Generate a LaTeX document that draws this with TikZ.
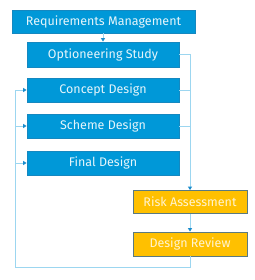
\documentclass[tikz,border=0pt]{standalone}
\usepackage{fontspec}
\setmainfont{Fira Sans}
\usetikzlibrary{arrows.meta}
\definecolor{boxblue}{HTML}{0098D8}
\definecolor{boxblueb}{HTML}{1588C0}
\definecolor{boxorange}{HTML}{FFC000}
\definecolor{orangeb}{HTML}{5A7A80}
\definecolor{linecol}{HTML}{9CD6F0}
\definecolor{tipcol}{HTML}{1A8CCC}
\begin{document}
\begin{tikzpicture}[x=1pt,y=-1pt,
  bluebox/.style={draw=boxblueb,line width=0.8pt,fill=boxblue,text=white!90!boxblue,font=\fontsize{12.5}{13}\selectfont,inner sep=0pt},
  orangebox/.style={draw=orangeb,line width=0.8pt,fill=boxorange,text=white!82!boxorange,font=\fontsize{12.5}{13}\selectfont,inner sep=0pt},
  conn/.style={draw=linecol,line width=0.9pt,-{Triangle[length=3.5pt,width=4pt,fill=tipcol,color=tipcol]}},
  plain/.style={draw=linecol,line width=0.9pt}]
\useasboundingbox (0,0) rectangle (254,280);
\node[bluebox,minimum width=183pt,minimum height=23pt] (rm) at (103.5,21.5) {Requirements Management};
\node[bluebox,minimum width=152pt,minimum height=25pt] (os) at (103,54.5) {Optioneering Study};
\node[bluebox,minimum width=152pt,minimum height=24pt] (cd) at (103,90) {Concept Design};
\node[bluebox,minimum width=152pt,minimum height=24pt] (sd) at (103,126) {Scheme Design};
\node[bluebox,minimum width=152pt,minimum height=24pt] (fd) at (103,163) {Final Design};
\node[orangebox,minimum width=114pt,minimum height=23pt] (ra) at (190,202) {Risk Assessment};
\node[orangebox,minimum width=114pt,minimum height=24pt] (dr) at (190,244) {Design Review};
\coordinate (rv) at (190,54.5);
\coordinate (bl) at (15,267);
\coordinate (br) at (190,267);
\coordinate (lt) at (15,90);
\path[conn] (rm.south -| os.north) -- (os.north);
\path[plain] (os.east) -- (rv);
\path[plain] (cd.east) -- (cd.east -| rv);
\path[plain] (sd.east) -- (sd.east -| rv);
\path[conn] (rv) -- (ra.north);
\path[conn] (ra.south) -- (dr.north);
\path[plain] (dr.south) -- (br) -- (bl) -- (lt);
\path[conn] (lt) -- (cd.west);
\path[conn] (sd.west -| lt) -- (sd.west);
\path[conn] (fd.west -| lt) -- (fd.west);
\end{tikzpicture}
\end{document}
